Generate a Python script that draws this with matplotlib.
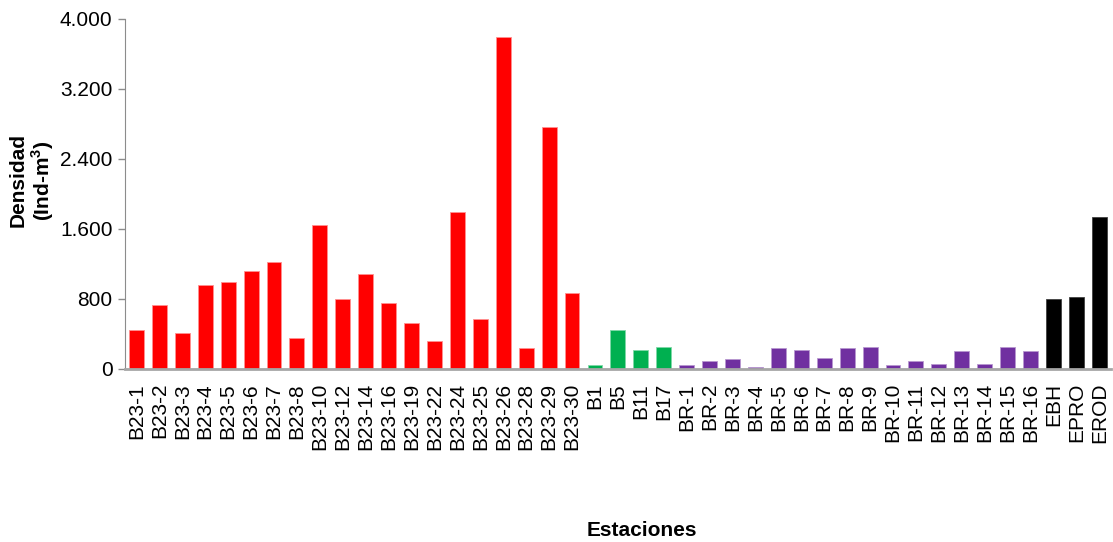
import matplotlib
matplotlib.use('Agg')
import matplotlib.pyplot as plt
from matplotlib.ticker import FuncFormatter

plt.rcParams['font.family'] = ['Liberation Sans', 'DejaVu Sans']

# Stations grouped by sector
b23_names = ['B23-1', 'B23-2', 'B23-3', 'B23-4', 'B23-5', 'B23-6', 'B23-7', 'B23-8',
             'B23-10', 'B23-12', 'B23-14', 'B23-16', 'B23-19', 'B23-22', 'B23-24',
             'B23-25', 'B23-26', 'B23-28', 'B23-29', 'B23-30']
b23_vals = [447, 730, 409, 959, 994, 1123, 1226, 359,
            1650, 802, 1085, 753, 520, 325, 1796,
            570, 3793, 237, 2770, 871]

b_names = ['B1', 'B5', 'B11', 'B17']
b_vals = [42, 447, 218, 252]

br_names = ['BR-1', 'BR-2', 'BR-3', 'BR-4', 'BR-5', 'BR-6', 'BR-7', 'BR-8',
            'BR-9', 'BR-10', 'BR-11', 'BR-12', 'BR-13', 'BR-14', 'BR-15', 'BR-16']
br_vals = [42, 95, 111, 23, 237, 218, 130, 237,
           252, 42, 95, 61, 203, 57, 252, 203]

e_names = ['EBH', 'EPRO', 'EROD']
e_vals = [799, 822, 1738]

# (names, values, fill, edge)
groups = [
    (b23_names, b23_vals, '#FF0000', '#ff9090'),
    (b_names, b_vals, '#00B050', '#80d8a8'),
    (br_names, br_vals, '#7030A0', '#b898d0'),
    (e_names, e_vals, '#000000', '#404040'),
]

fig = plt.figure(figsize=(11.13, 5.42), dpi=100)
ax = fig.add_axes([0.1123, 0.3192, 0.8857, 0.6458])

labels = []
pos = 0
for names, vals, color, edge in groups:
    xs = list(range(pos, pos + len(names)))
    ax.bar(xs, vals, width=0.65, color=color, edgecolor=edge, linewidth=0.6)
    labels += names
    pos += len(names)

ax.set_xlim(-0.5, len(labels) - 0.5)
ax.set_ylim(0, 4000)
ax.set_yticks([0, 800, 1600, 2400, 3200, 4000])
ax.yaxis.set_major_formatter(FuncFormatter(lambda v, p: f'{v:,.0f}'.replace(',', '.')))
ax.set_xticks(range(len(labels)))
ax.set_xticklabels(labels, rotation=90, fontsize=15)
ax.tick_params(axis='y', labelsize=15, length=5, width=1, color='#8c8c8c', direction='out', pad=4)
ax.tick_params(axis='x', length=0, pad=10)

for s in ['top', 'right']:
    ax.spines[s].set_visible(False)
ax.spines['left'].set_color('#8c8c8c')
ax.spines['bottom'].set_color('#a6a6a6')
ax.spines['bottom'].set_linewidth(2)

fig.text(0.029, 0.667, 'Densidad\n(Ind-m$^{\\mathregular{3}}$)', rotation=90, ha='center', va='center',
         fontsize=15, fontweight='bold', linespacing=1.1)
fig.text(0.577, 0.022, 'Estaciones', ha='center', va='center', fontsize=15, fontweight='bold')

fig.savefig('out.png', dpi=100)
